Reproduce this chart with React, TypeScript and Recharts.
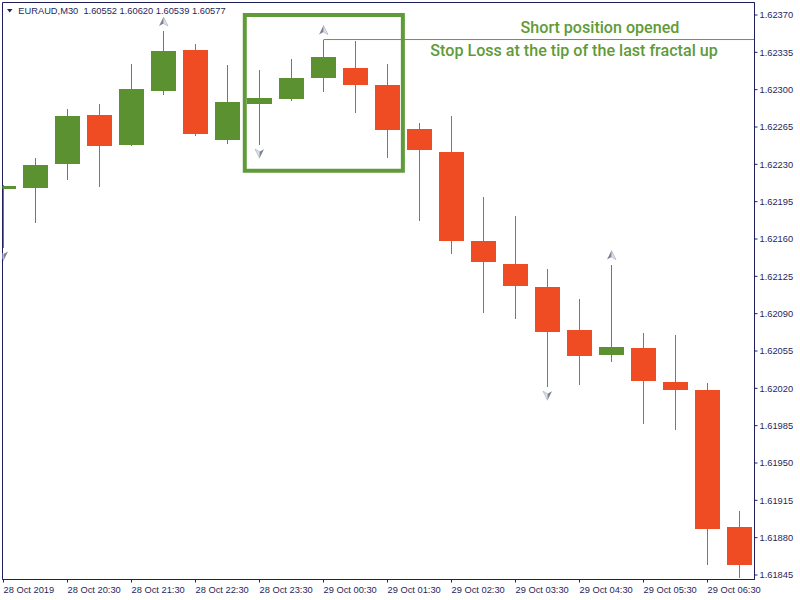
import React from 'react';
import {
  ComposedChart,
  Bar,
  XAxis,
  YAxis,
  Scatter,
  ReferenceArea,
  ReferenceLine,
  ReferenceDot,
} from 'recharts';

// ---- data (EURAUD M30, 28 Oct 2019 19:30 -> 29 Oct 2019 07:00) ----
const opens = [1.62207, 1.62208, 1.6223, 1.62276, 1.62248, 1.62299, 1.62337, 1.62253, 1.62287, 1.62291, 1.62311, 1.6232, 1.62304, 1.62263, 1.62242, 1.62158, 1.62137, 1.62115, 1.62075, 1.62051, 1.62058, 1.62026, 1.62018, 1.6189];
const highs = [1.62211, 1.62236, 1.62282, 1.62287, 1.62324, 1.62355, 1.62343, 1.62323, 1.62318, 1.62329, 1.62347, 1.62346, 1.62324, 1.62269, 1.62275, 1.62199, 1.62182, 1.62132, 1.62104, 1.62136, 1.62072, 1.6207, 1.62025, 1.61905];
const lows = [1.62152, 1.62175, 1.62215, 1.62209, 1.62247, 1.62295, 1.62257, 1.62249, 1.62248, 1.62289, 1.62298, 1.62278, 1.62236, 1.62177, 1.62146, 1.62091, 1.62085, 1.62021, 1.62023, 1.62045, 1.61987, 1.61981, 1.61854, 1.61842];
const closes = [1.6221, 1.62229, 1.62275, 1.62247, 1.62301, 1.62336, 1.62258, 1.62288, 1.62292, 1.62311, 1.62331, 1.62304, 1.62262, 1.62243, 1.62158, 1.62138, 1.62116, 1.62073, 1.6205, 1.62059, 1.62027, 1.62018, 1.61888, 1.61854];

const xTickIdx = [0, 2, 4, 6, 8, 10, 12, 14, 16, 18, 20, 22];
const xTickLabels = ['28 Oct 2019', '28 Oct 20:30', '28 Oct 21:30', '28 Oct 22:30', '28 Oct 23:30', '29 Oct 00:30', '29 Oct 01:30', '29 Oct 02:30', '29 Oct 03:30', '29 Oct 04:30', '29 Oct 05:30', '29 Oct 06:30'];
const yTicks = [1.61845, 1.6188, 1.61915, 1.6195, 1.61985, 1.6202, 1.62055, 1.6209, 1.62125, 1.6216, 1.62195, 1.6223, 1.62265, 1.623, 1.62335, 1.6237];

const fractalUpIdx = [5, 10, 19];
const fractalDownIdx = [0, 8, 17];

const xDomain = [-0.03125, 23.46875];
const yDomain = [1.6184078, 1.6238172];

// annotation (green box around the fractal, stop-loss line, captions)
const boxX = [7.54, 12.48];
const boxY = [1.62224, 1.6237];
const stopLossIdx = 10;
const stopLossPrice = 1.62347;
const caption1 = { i: 18.64, price: 1.623585, text: 'Short position opened' };
const caption2 = { i: 17.83, price: 1.623365, text: 'Stop Loss at the tip of the last fractal up' };
const headerText = 'EURAUD,M30  1.60552 1.60620 1.60539 1.60577';

const candles = opens.map((o, i) => ({ i, open: o, high: highs[i], low: lows[i], close: closes[i] }));
const upData = fractalUpIdx.map((i) => ({ i, v: highs[i] }));
const downData = fractalDownIdx.map((i) => ({ i, v: lows[i] }));

const GREEN = '#5b9131';
const RED = '#f04c24';
const GREEN_WICK = '#5b8f33';
const RED_WICK = '#d5553a';
const NAVY = '#1f1f5c';
const NOTE = '#5f9b38';
const AXIS_FONT = '"Liberation Sans", Arial, sans-serif';

const wickKey = (d: any) => [d.low, d.high];
const bodyKey = (d: any) => [Math.min(d.open, d.close), Math.max(d.open, d.close)];

const WickShape = (p: any) => {
  const { x, y, width, height, payload } = p;
  const cx = Math.floor(x + width / 2);
  const top = Math.round(Math.min(y, y + height));
  const bot = Math.round(Math.max(y, y + height));
  const col = payload.close >= payload.open ? GREEN_WICK : RED_WICK;
  return <rect x={cx} y={top} width={1} height={Math.max(1, bot - top)} fill={col} shapeRendering="crispEdges" />;
};

const BodyShape = (p: any) => {
  const { x, y, width, height, payload } = p;
  const top = Math.round(Math.min(y, y + height));
  const bot = Math.round(Math.max(y, y + height));
  const col = payload.close >= payload.open ? GREEN : RED;
  return <rect x={Math.round(x)} y={top} width={Math.round(width)} height={Math.max(1, bot - top)} fill={col} shapeRendering="crispEdges" />;
};

const UpArrow = (p: any) => {
  const { cx } = p;
  const cy = p.cy - 9;
  return (
    <g>
      <polygon points={`${cx},${cy - 5} ${cx - 4.5},${cy + 4} ${cx},${cy + 1.5}`} fill="#7c8291" />
      <polygon points={`${cx},${cy - 5} ${cx},${cy + 1.5} ${cx + 4.5},${cy + 4}`} fill="#dfe2e8" stroke="#a3a8b2" strokeWidth={0.6} />
    </g>
  );
};

const DownArrow = (p: any) => {
  const { cx } = p;
  const cy = p.cy + 8;
  return (
    <g>
      <polygon points={`${cx},${cy + 5} ${cx + 4.5},${cy - 4} ${cx},${cy - 1.5}`} fill="#7c8291" />
      <polygon points={`${cx},${cy + 5} ${cx},${cy - 1.5} ${cx - 4.5},${cy - 4}`} fill="#dfe2e8" stroke="#a3a8b2" strokeWidth={0.6} />
    </g>
  );
};

const XTick = (p: any) => {
  const { x, y, payload } = p;
  const k = xTickIdx.indexOf(payload.value);
  return (
    <text x={x} y={y + 8} textAnchor="start" fill={NAVY} fontSize={9.3} fontFamily={AXIS_FONT}>
      {k >= 0 ? xTickLabels[k] : ''}
    </text>
  );
};

const YTick = (p: any) => {
  const { x, y, payload } = p;
  return (
    <text x={x} y={y} dy="0.35em" textAnchor="start" fill={NAVY} fontSize={9.3} fontFamily={AXIS_FONT}>
      {Number(payload.value).toFixed(5)}
    </text>
  );
};

const Caption = (text: string) => (p: any) => (
  <text
    x={p.cx}
    y={p.cy}
    textAnchor="middle"
    dominantBaseline="central"
    fill={NOTE}
    fontSize={16.1}
    fontWeight={500}
    fontFamily="Roboto, 'Noto Sans', sans-serif"
  >
    {text}
  </text>
);

export default function App() {
  return (
    <div style={{ position: 'absolute', left: 0, top: 0, width: 800, height: 600, background: '#fff' }}>
      <ComposedChart
        width={800}
        height={600}
        data={candles}
        margin={{ top: 2.5, right: 0, bottom: 0, left: 2.5 }}
      >
        <XAxis
          xAxisId="main"
          type="number"
          dataKey="i"
          domain={xDomain}
          allowDataOverflow
          ticks={xTickIdx}
          interval={0}
          tickSize={3}
          height={20.5}
          stroke={NAVY}
          tick={<XTick />}
        />
        <XAxis xAxisId="wick" type="number" dataKey="i" domain={xDomain} allowDataOverflow hide />
        <YAxis
          orientation="right"
          type="number"
          domain={yDomain}
          allowDataOverflow
          ticks={yTicks}
          interval={0}
          tickSize={3}
          width={45.5}
          stroke={NAVY}
          tick={<YTick />}
        />
        <ReferenceArea
          xAxisId="main"
          x1={xDomain[0]}
          x2={xDomain[1]}
          y1={yDomain[0]}
          y2={yDomain[1]}
          fill="none"
          stroke={NAVY}
          strokeWidth={1}
          ifOverflow="visible"
        />
        <Bar xAxisId="wick" dataKey={wickKey} barSize={25} shape={<WickShape />} isAnimationActive={false} />
        <Bar xAxisId="main" dataKey={bodyKey} barSize={25} shape={<BodyShape />} isAnimationActive={false} />
        <Scatter xAxisId="main" data={upData} dataKey="v" shape={<UpArrow />} isAnimationActive={false} />
        <Scatter xAxisId="main" data={downData} dataKey="v" shape={<DownArrow />} isAnimationActive={false} />
        <ReferenceLine
          xAxisId="main"
          segment={[
            { x: stopLossIdx, y: stopLossPrice },
            { x: xDomain[1], y: stopLossPrice },
          ]}
          stroke={NOTE}
          strokeWidth={1}
        />
        <ReferenceArea
          xAxisId="main"
          x1={boxX[0]}
          x2={boxX[1]}
          y1={boxY[0]}
          y2={boxY[1]}
          fill="none"
          stroke={NOTE}
          strokeWidth={4}
        />
        <ReferenceDot xAxisId="main" x={caption1.i} y={caption1.price} r={0} shape={Caption(caption1.text)} />
        <ReferenceDot xAxisId="main" x={caption2.i} y={caption2.price} r={0} shape={Caption(caption2.text)} />
      </ComposedChart>
      <svg
        width={800}
        height={600}
        style={{ position: 'absolute', left: 0, top: 0, pointerEvents: 'none' }}
      >
        <polygon points="7,9 12.5,9 9.75,12.5" fill={NAVY} />
        <text x={18.3} y={14} fill={NAVY} fontSize={9.3} fontFamily={AXIS_FONT} style={{ whiteSpace: 'pre' }}>
          {headerText}
        </text>
      </svg>
    </div>
  );
}
